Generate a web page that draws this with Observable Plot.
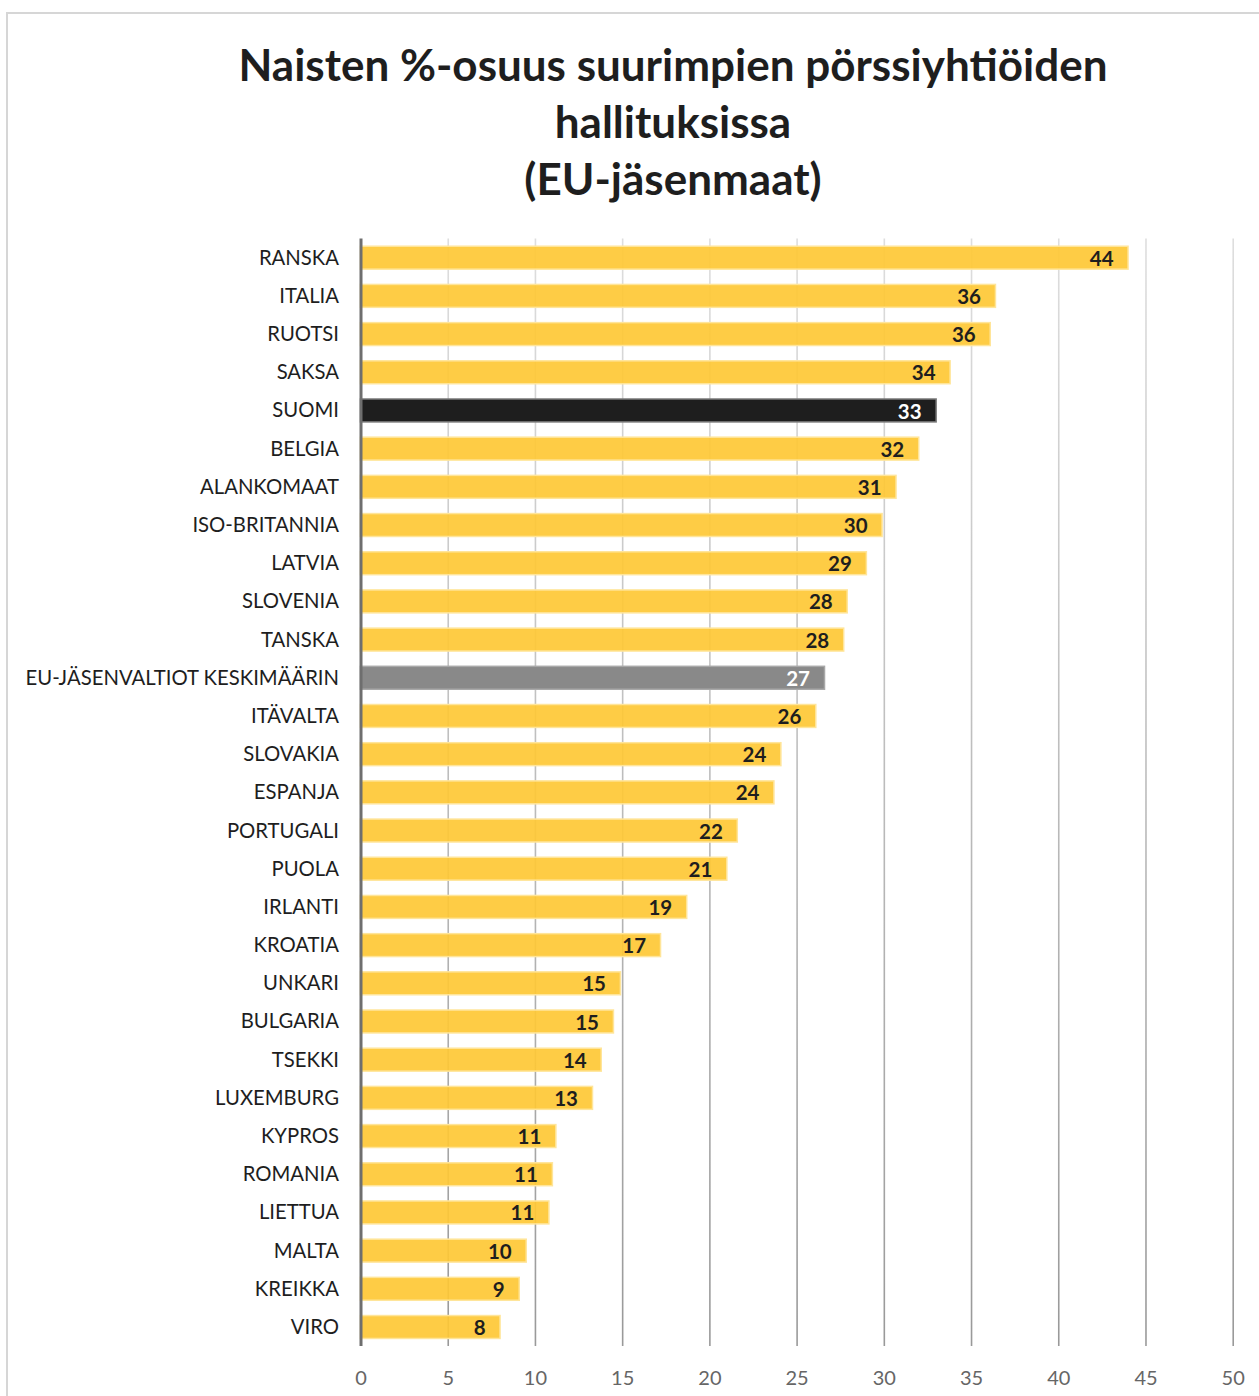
<!DOCTYPE html>
<html><head><meta charset="utf-8">
<script src="https://cdn.jsdelivr.net/npm/d3@7"></script>
<script src="https://cdn.jsdelivr.net/npm/@observablehq/plot@0.6"></script>
<style>
body{margin:0;background:#fff;}
#wrap{position:relative;width:1259px;height:1396px;overflow:hidden;font-family:Lato,"Open Sans",sans-serif;}
#frame{position:absolute;left:6px;top:12px;width:1300px;height:1500px;border:2px solid #d6d6d6;box-sizing:border-box;}
#title{position:absolute;left:87px;top:36px;width:1172px;text-align:center;font-weight:bold;font-size:44px;line-height:57px;color:#1e1e1e;}
#chart{position:absolute;left:0;top:220px;}
</style></head>
<body>
<div id="wrap">
<div id="frame"></div>
<div id="title">Naisten %-osuus suurimpien pörssiyhtiöiden<br>hallituksissa<br>(EU-jäsenmaat)</div>
<div id="chart"></div>
</div>
<script>
const countries = ["RANSKA","ITALIA","RUOTSI","SAKSA","SUOMI","BELGIA","ALANKOMAAT","ISO-BRITANNIA","LATVIA","SLOVENIA","TANSKA","EU-JÄSENVALTIOT KESKIMÄÄRIN","ITÄVALTA","SLOVAKIA","ESPANJA","PORTUGALI","PUOLA","IRLANTI","KROATIA","UNKARI","BULGARIA","TSEKKI","LUXEMBURG","KYPROS","ROMANIA","LIETTUA","MALTA","KREIKKA","VIRO"];
const values = [44.0,36.4,36.1,33.8,33.0,32.0,30.7,29.9,29.0,27.9,27.7,26.6,26.1,24.1,23.7,21.6,21.0,18.7,17.2,14.9,14.5,13.8,13.3,11.2,11.0,10.8,9.5,9.1,8.0];
const labels = [44,36,36,34,33,32,31,30,29,28,28,27,26,24,24,22,21,19,17,15,15,14,13,11,11,11,10,9,8];
const xTicks = [0,5,10,15,20,25,30,35,40,45,50];

const data = countries.map((c,i)=>({country:c, value:values[i], label:labels[i]}));
const HIGHLIGHT = "SUOMI", AVERAGE = "EU-JÄSENVALTIOT KESKIMÄÄRIN";
const fillOf = d => d.country===HIGHLIGHT ? "#1e1e1e" : d.country===AVERAGE ? "#898989" : "#fec835";
const strokeOf = d => d.country===HIGHLIGHT ? "#7a7a7a" : d.country===AVERAGE ? "#a8a8a8" : "#ffe59a";
const opOf = d => (d.country===HIGHLIGHT||d.country===AVERAGE) ? 1 : 0.92;
const textOf = d => (d.country===HIGHLIGHT||d.country===AVERAGE) ? "#ffffff" : "#1e1e1e";

const H = 1176, plotTop = 18.6, plotBottom = 1126.1;
const chart = Plot.plot({
  width: 1259, height: H,
  marginTop: plotTop, marginBottom: H-plotBottom, marginLeft: 360.5, marginRight: 26.3,
  style: {fontFamily: "Lato, 'Open Sans', sans-serif", background: "transparent"},
  x: {domain: [0,50], ticks: xTicks},
  y: {domain: countries, padding: 0.4, paddingOuter: 0.2, align: 0.5, round: false},
  marks: [
    Plot.ruleX(xTicks.filter(t=>t>0), {stroke: "url(#gridGrad)", strokeWidth: 1.6}),
    Plot.barX(data, {y: "country", x: "value", fill: fillOf, stroke: strokeOf, strokeWidth: 1.5, fillOpacity: opOf}),
    Plot.ruleX([0], {stroke: "#6e6e6e", strokeWidth: 3}),
    Plot.text(data, {y: "country", x: "value", text: d=>String(d.label), textAnchor: "end", dx: -15, dy: 1, fill: textOf, fontWeight: "bold", fontSize: 20.5}),
    Plot.axisY({tickSize: 0, tickPadding: 22, fontSize: 20.3, color: "#1e1e1e", label: null}),
    Plot.axisX({ticks: xTicks, tickSize: 0, tickPadding: 24, fontSize: 20, color: "#666", label: null})
  ]
});
const ns = "http://www.w3.org/2000/svg";
const defs = document.createElementNS(ns, "defs");
defs.innerHTML = `<linearGradient id="gridGrad" gradientUnits="userSpaceOnUse" x1="0" y1="${plotTop}" x2="0" y2="${plotBottom}"><stop offset="0" stop-color="#dedede"/><stop offset="1" stop-color="#999999"/></linearGradient>`;
chart.insertBefore(defs, chart.firstChild);
document.getElementById("chart").appendChild(chart);
</script>
</body></html>
